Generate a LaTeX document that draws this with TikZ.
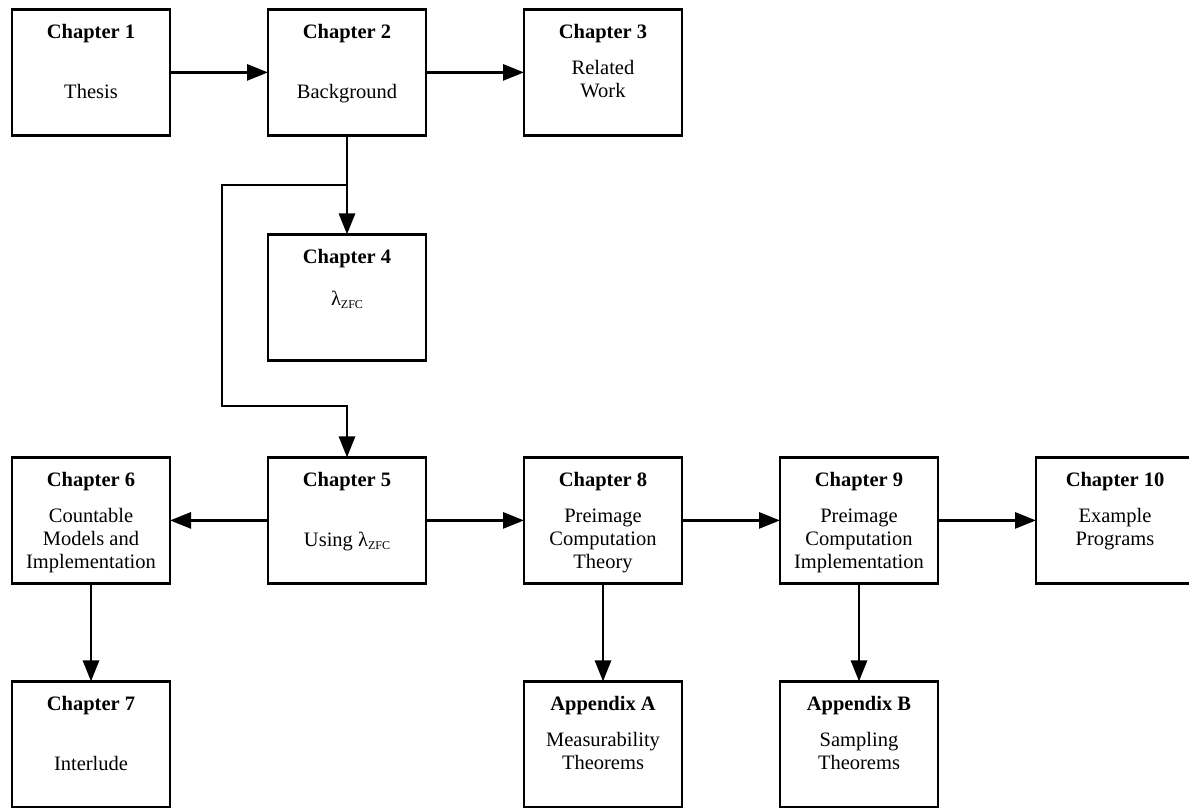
\documentclass[tikz,border=0pt]{standalone}
\usepackage{fontspec}
\setmainfont{Liberation Serif}
\usetikzlibrary{arrows.meta}
\tikzset{
  box/.style={draw, line width=2.8pt, minimum width=158pt, minimum height=126pt, inner sep=0pt, outer sep=0pt, anchor=north},
  ttl/.style={font=\fontsize{20.5}{23}\selectfont\bfseries, anchor=base, inner sep=0pt},
  bdy/.style={font=\fontsize{20.5}{23}\selectfont, anchor=base, align=center, inner sep=0pt},
  con/.style={line width=2.8pt, -{Triangle[length=21pt,width=16pt]}},
}
% #6 = baseline offset of the LAST body line from the box top
\newcommand\chapbox[6]{%
  \node[box] (#1) at (#2,#3+1.4) {};
  \node[ttl] (#1t) at (#2,#3+30.5) {#4};
  \node[bdy] (#1b) at (#2,#3+#6) {#5};
}
\newcommand\lzfc{λ\raisebox{-3pt}{\fontsize{12}{12}\selectfont ZFC}}
\begin{document}
\begin{tikzpicture}[x=1pt,y=-1pt]
\useasboundingbox (0,0) rectangle (1189,807);
\clip (0,0) rectangle (1189,807);
\chapbox{c1}{91}{8}{Chapter 1}{Thesis}{90}
\chapbox{c2}{347}{8}{Chapter 2}{Background}{90}
\chapbox{c3}{603}{8}{Chapter 3}{Related\\Work}{89}
\chapbox{c4}{347}{233}{Chapter 4}{\lzfc}{72}
\chapbox{c6}{91}{456}{Chapter 6}{Countable\\Models and\\Implementation}{112}
\chapbox{c5}{347}{456}{Chapter 5}{Using \lzfc}{90}
\chapbox{c8}{603}{456}{Chapter 8}{Preimage\\Computation\\Theory}{112}
\chapbox{c9}{859}{456}{Chapter 9}{Preimage\\Computation\\Implementation}{112}
\chapbox{c10}{1115}{456}{Chapter 10}{Example\\Programs}{89}
\chapbox{c7}{91}{680}{Chapter 7}{Interlude}{90}
\chapbox{ca}{603}{680}{Appendix A}{Measurability\\Theorems}{89}
\chapbox{cb}{859}{680}{Appendix B}{Sampling\\Theorems}{89}
\coordinate (j2) at (222,185);
\coordinate (j3) at (222,406);
\draw[con] (c1.east) -- (c2.west);
\draw[con] (c2.east) -- (c3.west);
\draw[con] (c2.south) -- (c4.north);
\draw[con] (c2.south) |- (j2) -- (j3) -| (c5.north);
\draw[con] (c5.west) -- (c6.east);
\draw[con] (c5.east) -- (c8.west);
\draw[con] (c8.east) -- (c9.west);
\draw[con] (c9.east) -- (c10.west);
\draw[con] (c6.south) -- (c7.north);
\draw[con] (c8.south) -- (ca.north);
\draw[con] (c9.south) -- (cb.north);
\end{tikzpicture}
\end{document}
